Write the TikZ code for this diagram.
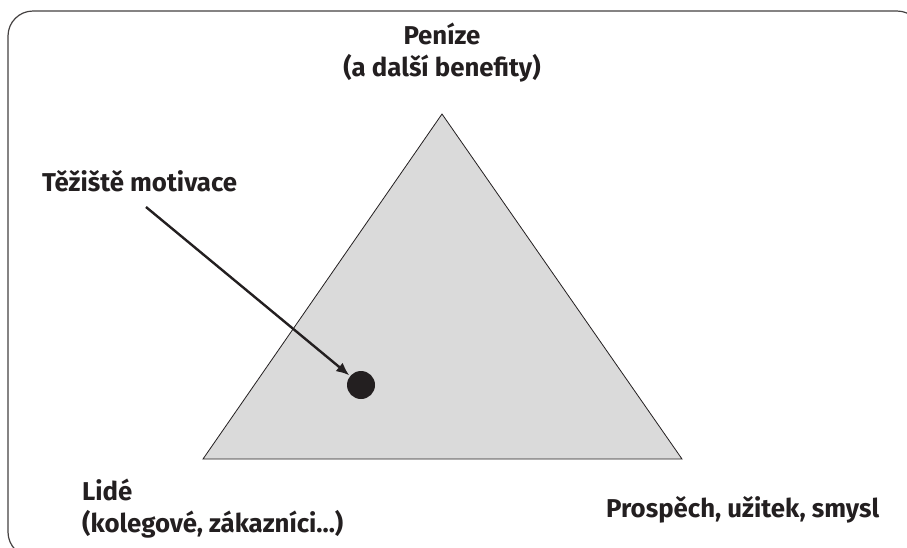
\documentclass[tikz,border=0pt]{standalone}
\usepackage{fontspec}
\setmainfont{Fira Sans}
\usetikzlibrary{arrows.meta}
\definecolor{ink}{HTML}{231F20}
\definecolor{trifill}{HTML}{DADADA}
\tikzset{
  lbl/.style={text=ink, font=\bfseries\fontsize{25.8}{32}\selectfont, inner sep=0pt, align=left},
  frame/.style={draw=ink!85, line width=1.2pt, rounded corners=25pt},
  tri/.style={draw=ink, fill=trifill, line width=0.8pt, line join=miter},
  dot/.style={circle, fill=ink, minimum size=28pt, inner sep=0pt},
  pointer/.style={draw=ink, line width=2.4pt, -{Latex[length=13pt,width=11pt]}, shorten >=1pt}
}
\begin{document}
\begin{tikzpicture}[x=1pt,y=-1pt]
\useasboundingbox (0,0) rectangle (907,547);
\begin{scope}
\clip (0,0) rectangle (907,547);
\draw[frame] (8,11) rectangle (922,557);
\end{scope}
\coordinate (top) at (442,114);
\coordinate (bl) at (203,459);
\coordinate (br) at (682,459);
\draw[tri] (top) -- (br) -- (bl) -- cycle;
\node[dot] (dot) at (361,385) {};
\node[lbl, anchor=base west] (tez) at (42,191) {Těžiště motivace};
\coordinate (start) at (146,207);
\draw[pointer] (start) -- (dot);
\node[lbl, align=center, anchor=base] (pen) at (442,76) {Peníze\\(a další benefity)};
\node[lbl, anchor=base west] (lid) at (82,532) {Lidé\\(kolegové, zákazníci...)};
\node[lbl, anchor=base west] (pro) at (606,517) {Prospěch, užitek, smysl};
\end{tikzpicture}
\end{document}
